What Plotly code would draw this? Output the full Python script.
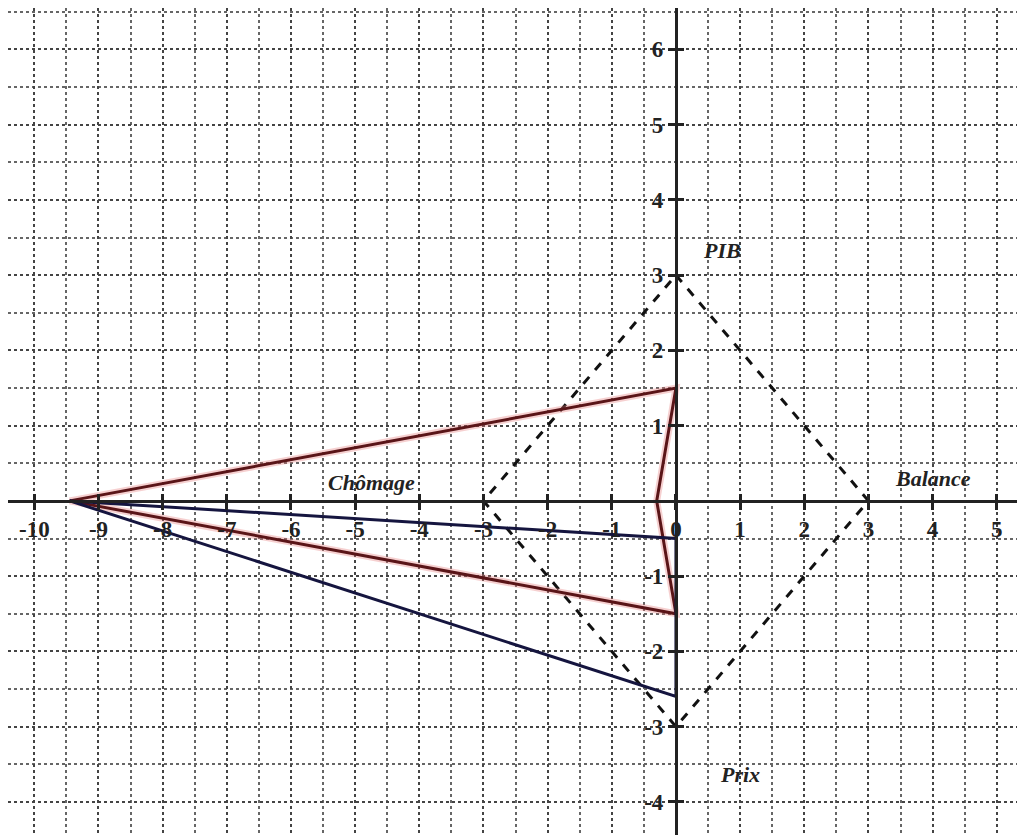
import plotly.graph_objects as go

# axis labels of the four-way chart
axis_names = ["PIB", "Balance", "Prix", "Chômage"]
label_x = [0.72, 4.0, 1.0, -4.75]
label_y = [3.33, 0.3, -3.64, 0.24]

# dashed reference diamond (3 on each axis)
ref_x = [0, 3, 0, -3, 0]
ref_y = [3, 0, -3, 0, 3]

# red polygon
red_x = [-9.45, 0, -0.3, 0, -9.45]
red_y = [0, 1.5, 0, -1.5, 0]

# navy polygon
navy_x = [-9.45, 0, 0, -9.45]
navy_y = [0, -0.5, -2.6, 0]

x_ticks = list(range(-10, 6))
y_ticks = [-4, -3, -2, -1, 1, 2, 3, 4, 5, 6]

# page body adds an 8px offset, so the plot is 1017x827
x_range = [-10.41, 5.44]
y_range = [-4.44, 6.55]

x_pos = (0 - y_range[0]) / (y_range[1] - y_range[0])
y_pos = (0 - x_range[0]) / (x_range[1] - x_range[0])

fig = go.Figure()

fig.add_trace(go.Scatter(x=ref_x, y=ref_y, mode="lines",
                         line=dict(color="#111111", width=3, dash="dash")))
fig.add_trace(go.Scatter(x=red_x, y=red_y, mode="lines",
                         line=dict(color="rgba(230,120,120,0.35)", width=7)))
fig.add_trace(go.Scatter(x=red_x, y=red_y, mode="lines",
                         line=dict(color="#5a1518", width=3)))
fig.add_trace(go.Scatter(x=navy_x, y=navy_y, mode="lines",
                         line=dict(color="#15153f", width=3)))

tick_font = dict(family="Liberation Serif", size=23, color="#222222")

fig.update_layout(
    width=1017, height=827,
    margin=dict(l=0, r=0, t=0, b=0),
    paper_bgcolor="white", plot_bgcolor="white",
    showlegend=False,
    xaxis=dict(
        range=x_range, anchor="free", position=x_pos,
        tickvals=x_ticks, ticktext=["<b>" + str(v) + "</b>" for v in x_ticks],
        tickfont=tick_font, ticks="outside", ticklen=7, tickwidth=3, tickcolor="#222",
        showline=True, linewidth=3, linecolor="#222",
        showgrid=True, gridcolor="#444", gridwidth=1.5, griddash="dot",
        minor=dict(dtick=0.5, tick0=0, showgrid=True, gridcolor="#666",
                   gridwidth=1.5, griddash="dot"),
        zeroline=False,
    ),
    yaxis=dict(
        range=y_range, anchor="free", position=y_pos,
        tickvals=y_ticks, ticktext=["<b>" + str(v) + "</b>" for v in y_ticks],
        tickfont=tick_font, ticks="outside", ticklen=7, tickwidth=3, tickcolor="#222",
        showline=True, linewidth=3, linecolor="#222",
        showgrid=True, gridcolor="#444", gridwidth=1.5, griddash="dot",
        minor=dict(dtick=0.5, tick0=0, showgrid=True, gridcolor="#666",
                   gridwidth=1.5, griddash="dot"),
        zeroline=False,
    ),
    # overlay axes so the tick marks cross the axis lines
    xaxis2=dict(
        matches="x", overlaying="x", anchor="free", position=x_pos,
        tickvals=x_ticks, ticks="inside", ticklen=7, tickwidth=3, tickcolor="#222",
        showticklabels=False, showgrid=False, zeroline=False, showline=False,
    ),
    yaxis2=dict(
        matches="y", overlaying="y", anchor="free", position=y_pos,
        tickvals=y_ticks, ticks="inside", ticklen=7, tickwidth=3, tickcolor="#222",
        showticklabels=False, showgrid=False, zeroline=False, showline=False,
    ),
)

fig.add_trace(go.Scatter(x=[None], y=[None], xaxis="x2", yaxis="y2"))

for name, lx, ly in zip(axis_names, label_x, label_y):
    fig.add_annotation(x=lx, y=ly, text="<b><i>" + name + "</i></b>", showarrow=False,
                       font=dict(family="Liberation Serif", size=22, color="#222"))

fig.write_html("out.html")
